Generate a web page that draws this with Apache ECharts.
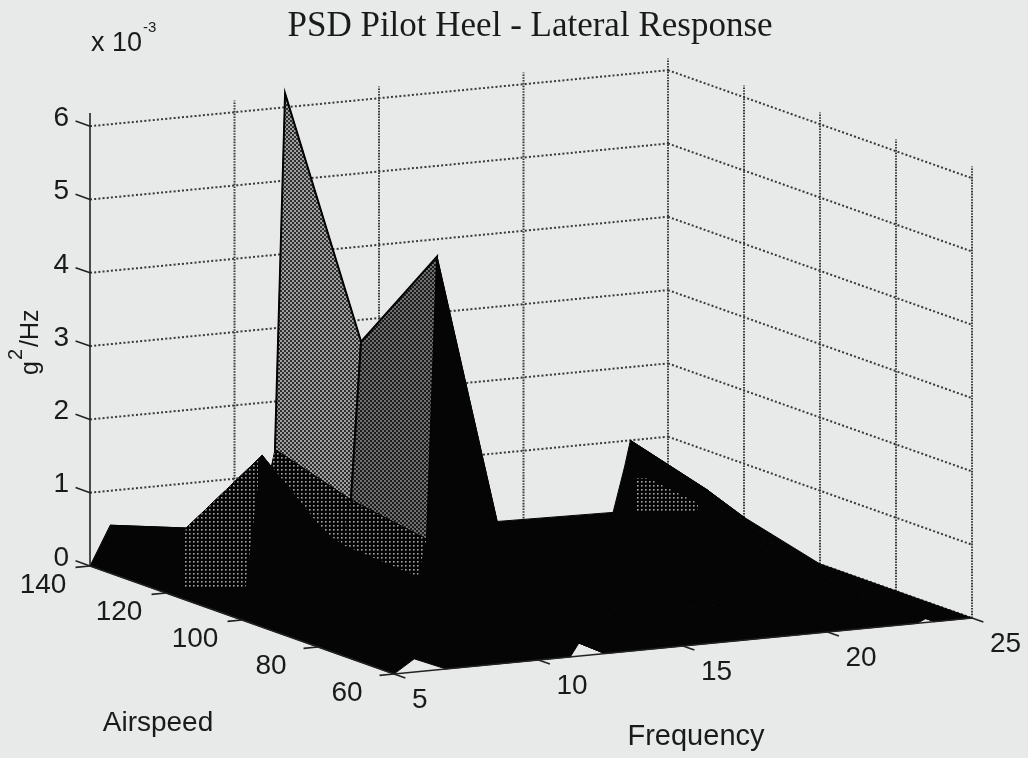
<!DOCTYPE html>
<html>
<head>
<meta charset="utf-8">
<style>html,body{margin:0;padding:0;background:#e8eae9}#main{width:1028px;height:758px}</style>
<script src="https://cdn.jsdelivr.net/npm/echarts@6/dist/echarts.min.js"></script>
</head>
<body>
<div id="main"></div>
<script>
// surface samples, z in units of 1e-3 g^2/Hz
const freqs = [5, 5.7, 6.8, 11.1, 11.4, 11.75, 12.3, 19, 23.1, 23.5, 23.7, 25];
const airspeeds = [140, 120, 100, 80, 60];
const z140 = [0, 0.53, 0.15, 0.8, 1.34, 6.19, 0.1, 0.07, 0.04, 0.65, 1.0, 0.55];
const z120 = [0, 0.86, 0.5, 0.42, 1.02, 3.17, 0.1, 0.1, 0.23, 0.5, 0.7, 0.27];
const z100 = [0, 2.22, 0.6, 0.35, 0.85, 4.7, 0.1, 0.1, 0.1, 0.15, 0.2, 0];
const z80 = [0, 1.3, 0.3, 0.2, 0.3, 0.5, 0.05, 0.05, 0, 0, 0, 0];
const z60 = [0, 0.18, 0, 0, 0.18, 0.11, 0, 0, 0, 0.07, 0, 0];
const zRows = [z140, z120, z100, z80, z60];

const zTicks = [0, 1, 2, 3, 4, 5, 6];
const airTicks = [140, 120, 100, 80, 60];
const freqTicks = [5, 10, 15, 20, 25];
const zTop = 6.16;

// shaded faces: [freq index, airspeed index, shade], everything else is black
const shadedFaces = [
  [4, 0, 'light'], [4, 1, 'mid'],
  [3, 0, 'sparse'], [3, 1, 'sparse'],
  [0, 1, 'sparse'],
  [8, 0, 'sparse']
];
// the print drops the dither outside these boxes: face key -> x, y, w, h
const ditherBoxes = {
  '0,1': [185, 460, 73, 127],
  '8,0': [637, 478, 61, 34]
};

// the view is orthographic, so three vectors are enough
function project(f, a, z) {
  const df = (f - 5) / 20, da = (140 - a) / 80;
  return [90 + df * 578 + da * 304, 566 - df * 56 + da * 108 - z * 73.3];
}

function dither(size, bg, fg, dots) {
  const c = document.createElement('canvas');
  c.width = c.height = size;
  const ctx = c.getContext('2d');
  ctx.fillStyle = bg;
  ctx.fillRect(0, 0, size, size);
  ctx.fillStyle = fg;
  dots.forEach(function (d) { ctx.fillRect(d[0], d[1], d[2], d[2]); });
  return { image: c, repeat: 'repeat' };
}
const fills = {
  light: dither(4, '#2e2e2e', '#a0a0a0', [[0, 0, 2], [2, 2, 2]]),
  mid: dither(4, '#1c1c1c', '#707070', [[0, 0, 2], [2, 2, 2]]),
  sparse: dither(4, '#050505', '#a8a8a8', [[1, 1, 1.6]])
};

// back to front: high frequency first, high airspeed first
const faces = [];
for (let i = freqs.length - 2; i >= 0; i--) {
  for (let j = 0; j < airspeeds.length - 1; j++) {
    const s = shadedFaces.find(function (q) { return q[0] === i && q[1] === j; });
    faces.push([i, j, s ? s[2] : 'black']);
  }
}

// wall grid and axis segments as pairs of 3D points
const gridH = [];
zTicks.forEach(function (z) {
  gridH.push([[5, 140, z], [25, 140, z]]);
  gridH.push([[25, 140, z], [25, 60, z]]);
});
const gridV = [];
freqTicks.slice(1).forEach(function (f) {
  gridV.push([[f, 140, 0], [f, 140, zTop]]);
});
airTicks.slice(1).forEach(function (a) {
  gridV.push([[25, a, 0], [25, a, zTop]]);
});

const axisSegs = [
  [[5, 140, 0], [5, 140, zTop + 0.02]],
  [[5, 140, 0], [5, 60, 0]],
  [[5, 60, 0], [25, 60, 0]]
];
zTicks.forEach(function (z) { axisSegs.push([[5, 140, z], [5, 143.8, z]]); });
airTicks.forEach(function (a) { axisSegs.push([[5, a, 0], [4.5, a, 0]]); });
freqTicks.forEach(function (f) { axisSegs.push([[f, 60, 0], [f, 57, 0]]); });

const font = '"Liberation Sans", Arial, sans-serif';
const tickLabels = [];
zTicks.forEach(function (z) {
  const p = project(5, 140, z);
  tickLabels.push([String(z), p[0] - 21, p[1] - 8, 'right']);
});
airTicks.forEach(function (a) {
  const p = project(5, a, 0);
  tickLabels.push([String(a), p[0] - 47, p[1] + 19, 'center']);
});
freqTicks.forEach(function (f) {
  const p = project(f, 60, 0);
  tickLabels.push([String(f), p[0] + 18, p[1] + 26, 'left']);
});

function segItem(segs, style) {
  return function (params, api) {
    const s = segs[params.dataIndex];
    const a = api.coord(project(s[0][0], s[0][1], s[0][2]));
    const b = api.coord(project(s[1][0], s[1][1], s[1][2]));
    return { type: 'line', shape: { x1: a[0], y1: a[1], x2: b[0], y2: b[1] }, style: style };
  };
}
function idx(arr) {
  return arr.map(function (s, i) { return [i]; });
}

const chart = echarts.init(document.getElementById('main'));
chart.setOption({
  backgroundColor: '#e8eae9',
  animation: false,
  title: {
    text: 'PSD Pilot Heel - Lateral Response',
    left: 525, top: 4, textAlign: 'center',
    textStyle: { fontFamily: '"Liberation Serif", serif', fontWeight: 'normal', fontSize: 35, color: '#1a1a1a' }
  },
  grid: { left: 0, right: 0, top: 0, bottom: 0 },
  xAxis: { type: 'value', min: 0, max: 1028, show: false },
  yAxis: { type: 'value', min: 0, max: 758, inverse: true, show: false },
  graphic: [
    { type: 'text', x: 91, y: 44, style: { text: 'x 10', font: '27px ' + font, fill: '#1a1a1a', verticalAlign: 'middle' } },
    { type: 'text', x: 143, y: 28, style: { text: '-3', font: '15px ' + font, fill: '#1a1a1a', verticalAlign: 'middle' } },
    { type: 'text', x: 31, y: 375, rotation: Math.PI / 2, style: { text: 'g', font: '25px ' + font, fill: '#1a1a1a', verticalAlign: 'middle' } },
    { type: 'text', x: 16, y: 360, rotation: Math.PI / 2, style: { text: '2', font: '20px ' + font, fill: '#1a1a1a', verticalAlign: 'middle' } },
    { type: 'text', x: 31, y: 347, rotation: Math.PI / 2, style: { text: '/Hz', font: '25px ' + font, fill: '#1a1a1a', verticalAlign: 'middle' } },
    { type: 'text', x: 158, y: 723, style: { text: 'Airspeed', font: '28px ' + font, fill: '#1a1a1a', align: 'center', verticalAlign: 'middle' } },
    { type: 'text', x: 696, y: 737, style: { text: 'Frequency', font: '29px ' + font, fill: '#1a1a1a', align: 'center', verticalAlign: 'middle' } }
  ],
  series: [
    {
      type: 'custom', coordinateSystem: 'cartesian2d', silent: true, clip: false, z: 1,
      data: idx(gridH),
      renderItem: segItem(gridH, { stroke: '#3a3a3a', lineWidth: 2, lineDash: [2, 2.2], fill: null })
    },
    {
      type: 'custom', coordinateSystem: 'cartesian2d', silent: true, clip: false, z: 1,
      data: idx(gridV),
      renderItem: segItem(gridV, { stroke: '#3a3a3a', lineWidth: 2, lineDash: [1.6, 1.2], fill: null })
    },
    {
      type: 'custom', coordinateSystem: 'cartesian2d', silent: true, clip: false, z: 2,
      data: idx(faces),
      renderItem: function (params, api) {
        const q = faces[params.dataIndex], i = q[0], j = q[1];
        const pts = [[i, j], [i + 1, j], [i + 1, j + 1], [i, j + 1]].map(function (c) {
          return api.coord(project(freqs[c[0]], airspeeds[c[1]], zRows[c[1]][c[0]]));
        });
        const base = { type: 'polygon', shape: { points: pts }, style: { fill: '#050505', stroke: '#050505', lineWidth: 1 } };
        if (q[2] === 'black') return base;
        const edge = q[2] === 'sparse' ? 0 : 2;
        const top = { type: 'polygon', shape: { points: pts }, style: { fill: fills[q[2]], stroke: '#050505', lineWidth: edge } };
        const box = ditherBoxes[i + ',' + j];
        if (box) {
          top.clipPath = { type: 'rect', shape: { x: box[0], y: box[1], width: box[2], height: box[3] } };
        }
        return { type: 'group', children: [base, top] };
      }
    },
    {
      type: 'custom', coordinateSystem: 'cartesian2d', silent: true, clip: false, z: 3,
      data: idx(axisSegs),
      renderItem: segItem(axisSegs, { stroke: '#222', lineWidth: 1.6, fill: null })
    },
    {
      type: 'custom', coordinateSystem: 'cartesian2d', silent: true, clip: false, z: 4,
      data: idx(tickLabels),
      renderItem: function (params, api) {
        const t = tickLabels[params.dataIndex];
        const p = api.coord([t[1], t[2]]);
        return {
          type: 'text', x: p[0], y: p[1],
          style: { text: t[0], font: '28px ' + font, fill: '#1a1a1a', align: t[3], verticalAlign: 'middle' }
        };
      }
    }
  ]
});
</script>
</body>
</html>
